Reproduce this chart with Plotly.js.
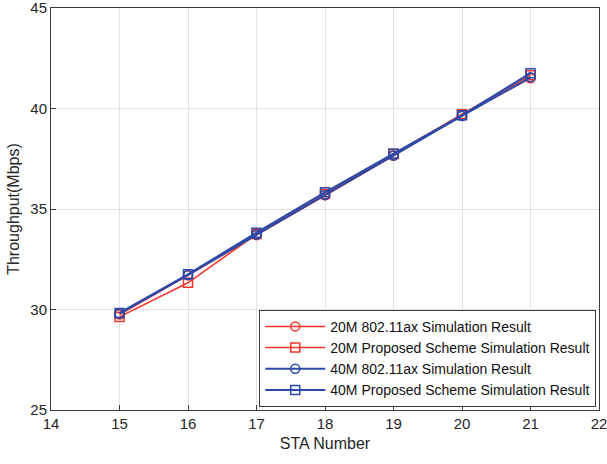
<!DOCTYPE html>
<html>
<head>
<meta charset="utf-8">
<script src="https://cdn.plot.ly/plotly-3.0.1.min.js"></script>
<style>
  html, body { margin: 0; padding: 0; background: #fff; }
  #chart { width: 607px; height: 464px; }
</style>
</head>
<body>
<div id="chart"></div>
<script>
const staNumbers = [15, 16, 17, 18, 19, 20, 21];

const ax20M = [29.75, 31.70, 33.70, 35.68, 37.65, 39.70, 41.50];
const proposed20M = [29.63, 31.33, 33.75, 35.75, 37.72, 39.72, 41.65];
const ax40M = [29.80, 31.72, 33.72, 35.70, 37.66, 39.63, 41.55];
const proposed40M = [29.83, 31.75, 33.82, 35.83, 37.76, 39.66, 41.76];

const xTicks = [14, 15, 16, 17, 18, 19, 20, 21, 22];
const yTicks = [25, 30, 35, 40, 45];

const seriesNames = [
    '20M 802.11ax Simulation Result',
    '20M Proposed Scheme Simulation Result',
    '40M 802.11ax Simulation Result',
    '40M Proposed Scheme Simulation Result'
];

const RED = '#f5332a';
const BLUE = '#2b4aa8';
const FONT = 'Liberation Sans, Arial, sans-serif';

function makeTrace(y, name, color, symbol, width) {
    return {
        x: staNumbers,
        y: y,
        name: name,
        type: 'scatter',
        mode: 'lines+markers',
        line: { color: color, width: width },
        marker: { symbol: symbol, size: 9, color: color, line: { color: color, width: 1.5 } }
    };
}

const traces = [
    makeTrace(ax20M, seriesNames[0], RED, 'circle-open', 1.5),
    makeTrace(proposed20M, seriesNames[1], RED, 'square-open', 1.5),
    makeTrace(ax40M, seriesNames[2], BLUE, 'circle-open', 2),
    makeTrace(proposed40M, seriesNames[3], BLUE, 'square-open', 2)
];

const axisCommon = {
    showline: true,
    mirror: true,
    linecolor: '#3a3a3a',
    linewidth: 1,
    ticks: 'inside',
    ticklen: 5,
    tickcolor: '#3a3a3a',
    showgrid: true,
    gridcolor: '#e2e2e2',
    gridwidth: 1,
    zeroline: false,
    tickmode: 'array',
    ticklabeloverflow: 'allow',
    tickfont: { family: FONT, size: 15, color: '#262626' }
};

const layout = {
    width: 607,
    height: 464,
    paper_bgcolor: '#fff',
    plot_bgcolor: '#fff',
    margin: { t: 8, r: 8, b: 54, l: 51 },
    showlegend: true,
    legend: {
        x: 0.995, xanchor: 'right',
        y: 0.008, yanchor: 'bottom',
        bgcolor: '#fff',
        bordercolor: '#3a3a3a',
        borderwidth: 1,
        tracegroupgap: 0,
        itemwidth: 60,
        font: { family: FONT, size: 14, color: '#111' }
    },
    xaxis: {
        ...axisCommon,
        range: [13.9999, 22.0001],
        tickvals: xTicks,
        ticktext: xTicks.map(String),
        title: { text: 'STA Number', standoff: 6, font: { family: FONT, size: 16, color: '#262626' } }
    },
    yaxis: {
        ...axisCommon,
        range: [24.9999, 45.0001],
        tickvals: yTicks,
        ticktext: yTicks.map(String),
        title: { text: 'Throughput(Mbps)', standoff: 6, font: { family: FONT, size: 16, color: '#262626' } }
    }
};

Plotly.newPlot('chart', traces, layout, { displayModeBar: false, staticPlot: true });
</script>
</body>
</html>
